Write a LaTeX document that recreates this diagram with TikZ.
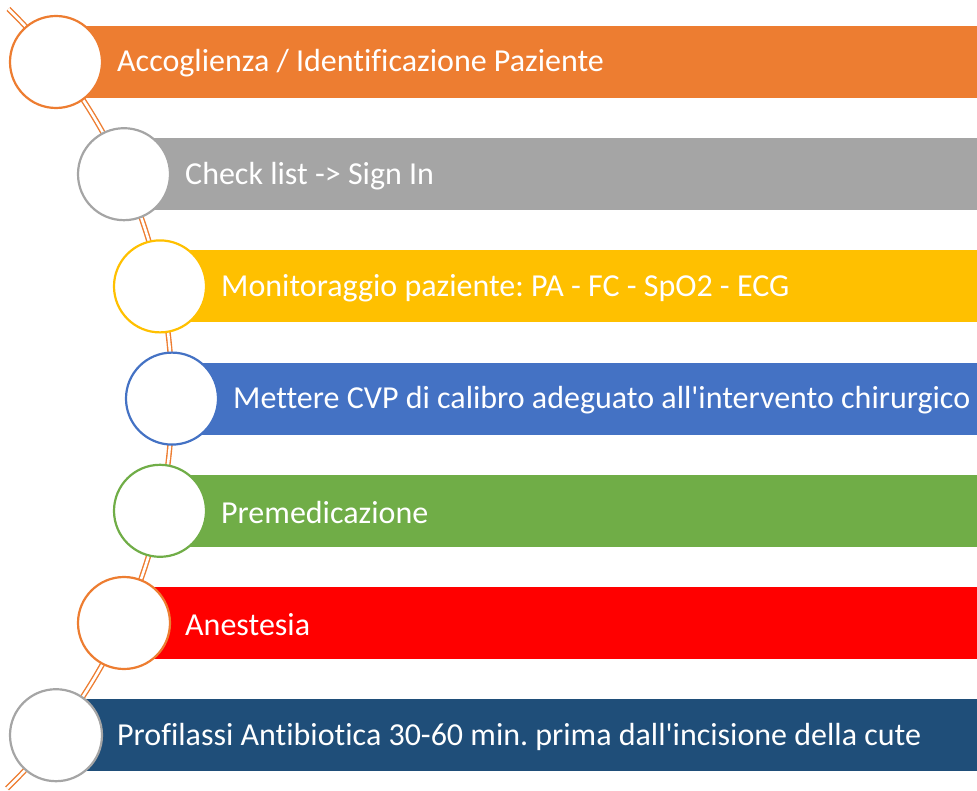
\documentclass[tikz,border=0pt]{standalone}
\usepackage{fontspec}
\setmainfont{Carlito}[Ligatures=NoCommon]
\usetikzlibrary{calc}
\frenchspacing
\def\barsep{112.2}
\def\barh{72pt}
\def\circr{92pt}
\definecolor{fOrange}{HTML}{ED7D31}
\definecolor{fGray}{HTML}{A5A5A5}
\definecolor{fYellow}{HTML}{FFC000}
\definecolor{fBlue}{HTML}{4472C4}
\definecolor{fGreen}{HTML}{70AD47}
\definecolor{fRed}{HTML}{FF0000}
\definecolor{fNavy}{HTML}{1F4E79}

\begin{document}
\begin{tikzpicture}[x=1pt,y=-1pt]
            \tikzstyle{stage circle}=[circle,draw,line width=2.2pt,fill=white,minimum size=\circr,inner sep=0pt]
            \tikzstyle{stage text}=[anchor=west,text=white,font=\fontsize{32}{34}\selectfont,inner sep=0pt]
            \tikzstyle{spine}=[draw=fOrange,double=white,line width=1.4pt,double distance=2.6pt]

            \useasboundingbox (0,0) rectangle (977,791);

            % Draw the coloured bars with their texts
            \foreach \name / \x / \col / \txt in {
                1/56/fOrange/{Accoglienza / Identificazione Paziente},
                2/124/fGray/{Check list -> Sign In},
                3/160/fYellow/{Monitoraggio paziente: PA - FC - SpO2 - ECG},
                4/172/fBlue/{Mettere CVP di calibro adeguato all\textquotesingle intervento chirurgico},
                5/160/fGreen/{Premedicazione},
                6/124/fRed/{Anestesia},
                7/56/fNavy/{Profilassi Antibiotica 30-60 min. prima dall\textquotesingle incisione della cute}}
            {
                \fill[\col] (\x,62+\barsep*\name-\barsep-36) rectangle (977,62+\barsep*\name-\barsep+36);
                \node[stage text] (T-\name) at (\x+61,63.5+\barsep*\name-\barsep) {\txt};
            }

            % The curved double line behind the circles
            \coordinate (spinetop) at ($(-372.6,398)+(45.6:544.6pt)$);
            \draw[spine] (spinetop) arc[start angle=45.6,end angle=-45.8,radius=544.6pt];

            % Draw the circles on the line
            \foreach \name / \x / \col in {1/56/fOrange,2/124/fGray,3/160/fYellow,4/172/fBlue,5/160/fGreen,6/124/fOrange,7/56/fGray}
                \node[stage circle,draw=\col] (C-\name) at (\x,62+\barsep*\name-\barsep) {};
        \end{tikzpicture}
\end{document}
